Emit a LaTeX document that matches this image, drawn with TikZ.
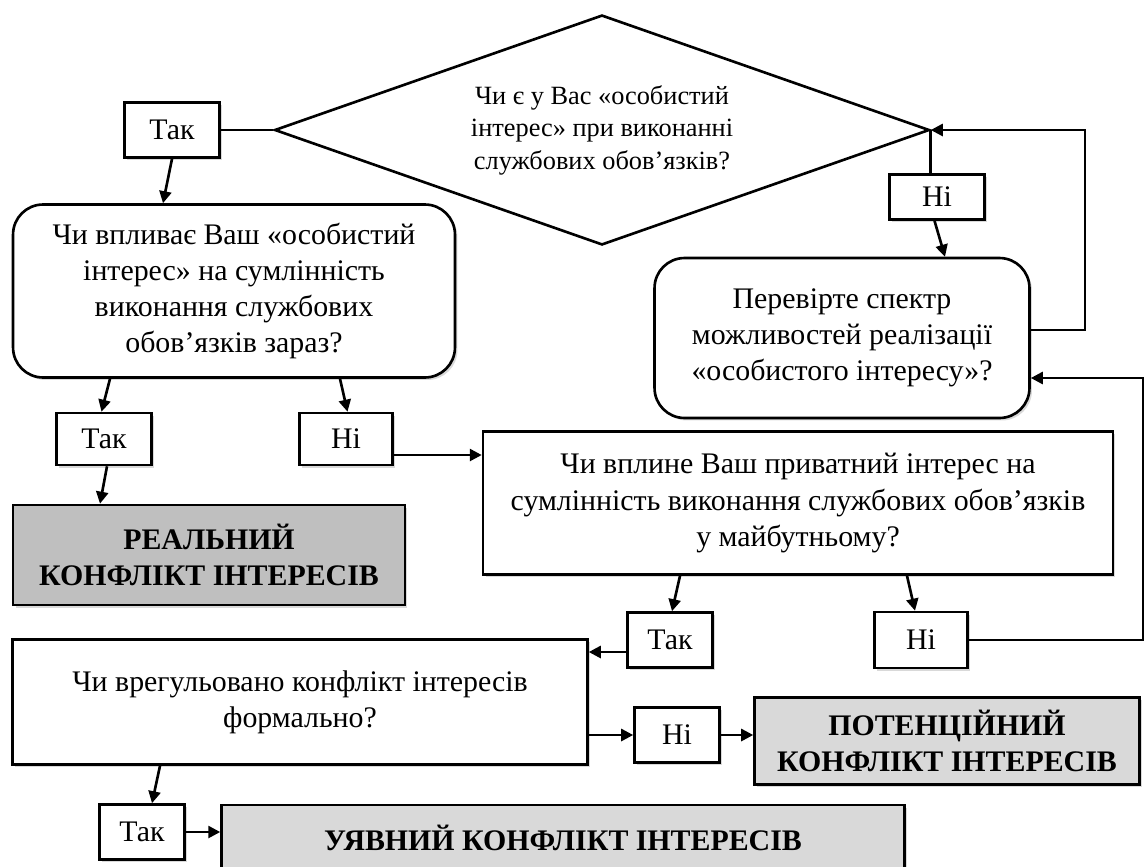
\documentclass[tikz,border=0pt]{standalone}
\usepackage{fontspec}
\setmainfont{Liberation Serif}
\usetikzlibrary{shapes.geometric, arrows.meta, shadows}

\begin{document}
\begin{tikzpicture}[x=0.02cm, y=-0.02cm,
    every node/.style={font=\fontsize{17}{20.5}\selectfont, align=center, inner sep=0pt},
    box/.style={draw, line width=1.5pt, fill=white,
                drop shadow={shadow xshift=0.05cm, shadow yshift=-0.05cm, fill=black!15, opacity=1}},
    roundbox/.style={box, rounded corners=0.6cm},
    outcome/.style={box, font=\fontsize{17}{20.5}\selectfont\bfseries},
    link/.style={line width=1.5pt},
    arr/.style={link, -{Triangle[length=0.24cm, width=0.24cm]}}]

    \useasboundingbox (0,0) rectangle (1148,866);
    \clip (0,0) rectangle (1148,866);

    % Question: personal interest?
    \node [diamond, draw, line width=1.5pt, aspect=2.85, minimum width=13.1cm,
           minimum height=4.6cm, font=\fontsize{15}{18.5}\selectfont] (q1) at (602,130)
          {Чи є у Вас «особистий\\інтерес» при виконанні\\службових обов’язків?};

    % Так / Ні next to the question
    \node [box, minimum width=1.9cm, minimum height=1.1cm] (yes1) at (172,130) {Так};
    \node [box, minimum width=1.9cm, minimum height=0.9cm] (no1) at (937,197) {Ні};

    % Influence now
    \node [roundbox, minimum width=8.84cm, minimum height=3.46cm] (infl) at (234,291)
          {Чи впливає Ваш «особистий\\інтерес» на сумлінність\\виконання службових\\обов’язків зараз?};

    % Spectrum check
    \node [roundbox, minimum width=7.5cm, minimum height=3.2cm] (check) at (842,338)
          {Перевірте спектр\\можливостей реалізації\\«особистого інтересу»?};

    % Answers to influence now
    \node [box, minimum width=1.9cm, minimum height=1.04cm] (yes2) at (104,439) {Так};
    \node [box, minimum width=1.86cm, minimum height=1.04cm] (no2) at (346,439) {Ні};

    % Real conflict
    \node [outcome, fill=gray!50, minimum width=7.84cm, minimum height=2cm] (real) at (209,555)
          {РЕАЛЬНИЙ\\КОНФЛІКТ ІНТЕРЕСІВ};

    % Influence in future
    \node [box, minimum width=12.6cm, minimum height=2.86cm] (future) at (798,503)
          {Чи вплине Ваш приватний інтерес на\\сумлінність виконання службових обов’язків\\у майбутньому?};

    \node [box, minimum width=1.7cm, minimum height=1.1cm] (yes3) at (670,640) {Так};
    \node [box, minimum width=1.86cm, minimum height=1.12cm] (no3) at (921,640) {Ні};

    % Formally settled?
    \node [box, minimum width=11.5cm, minimum height=2.5cm] (formal) at (300,702)
          {Чи врегульовано конфлікт інтересів\\формально?};

    \node [box, minimum width=1.7cm, minimum height=1.1cm] (no4) at (677,735) {Ні};

    % Potential conflict
    \node [outcome, fill=gray!30, minimum width=7.7cm, minimum height=1.74cm] (potential) at (947,741)
          {ПОТЕНЦІЙНИЙ\\КОНФЛІКТ ІНТЕРЕСІВ};

    \node [box, minimum width=1.7cm, minimum height=1.1cm] (yes4) at (142,832) {Так};

    % Imaginary conflict
    \node [outcome, fill=gray!30, minimum width=13.66cm, minimum height=1.32cm] (imag) at (563,838)
          {УЯВНИЙ КОНФЛІКТ ІНТЕРЕСІВ};

    % Edges from the question
    \draw [link] (q1.west) -- (yes1.east);
    \draw [arr] (yes1.south) -- ([xshift=-0.18cm]yes1.south |- infl.north);
    \draw [link] (q1.east) -- (q1.east |- no1.north);
    \draw [arr] ([xshift=-0.05cm]no1.south) -- (945,0 |- check.north);

    % Edges from influence now
    \draw [arr] (110,0 |- infl.south) -- ([xshift=-0.05cm]yes2.north);
    \draw [arr] (340,0 |- infl.south) -- ([xshift=0.03cm]no2.north);
    \draw [arr] (107,0 |- yes2.south) -- (100,0 |- real.north);
    \draw [arr] (no2.east |- 0,455) -- (future.west |- 0,455);

    % Edges from influence in future
    \draw [arr] (680,0 |- future.south) -- (672,0 |- yes3.north);
    \draw [arr] (907,0 |- future.south) -- (915,0 |- no3.north);
    \draw [arr] (yes3.west |- 0,652) -- (formal.east |- 0,652);
    \draw [arr] (no3.east) -| (1143,378) -- (check.east |- 0,378);

    % Back to the question
    \draw [arr] (check.east |- 0,330) -| (1085,130) -- (q1.east);

    % Edges from formally settled
    \draw [arr] (formal.east |- no4.west) -- (no4.west);
    \draw [arr] (no4.east) -- (no4.east -| potential.west);
    \draw [arr] (160,0 |- formal.south) -- (152,0 |- yes4.north);
    \draw [arr] (yes4.east) -- (yes4.east -| imag.west);
\end{tikzpicture}
\end{document}
